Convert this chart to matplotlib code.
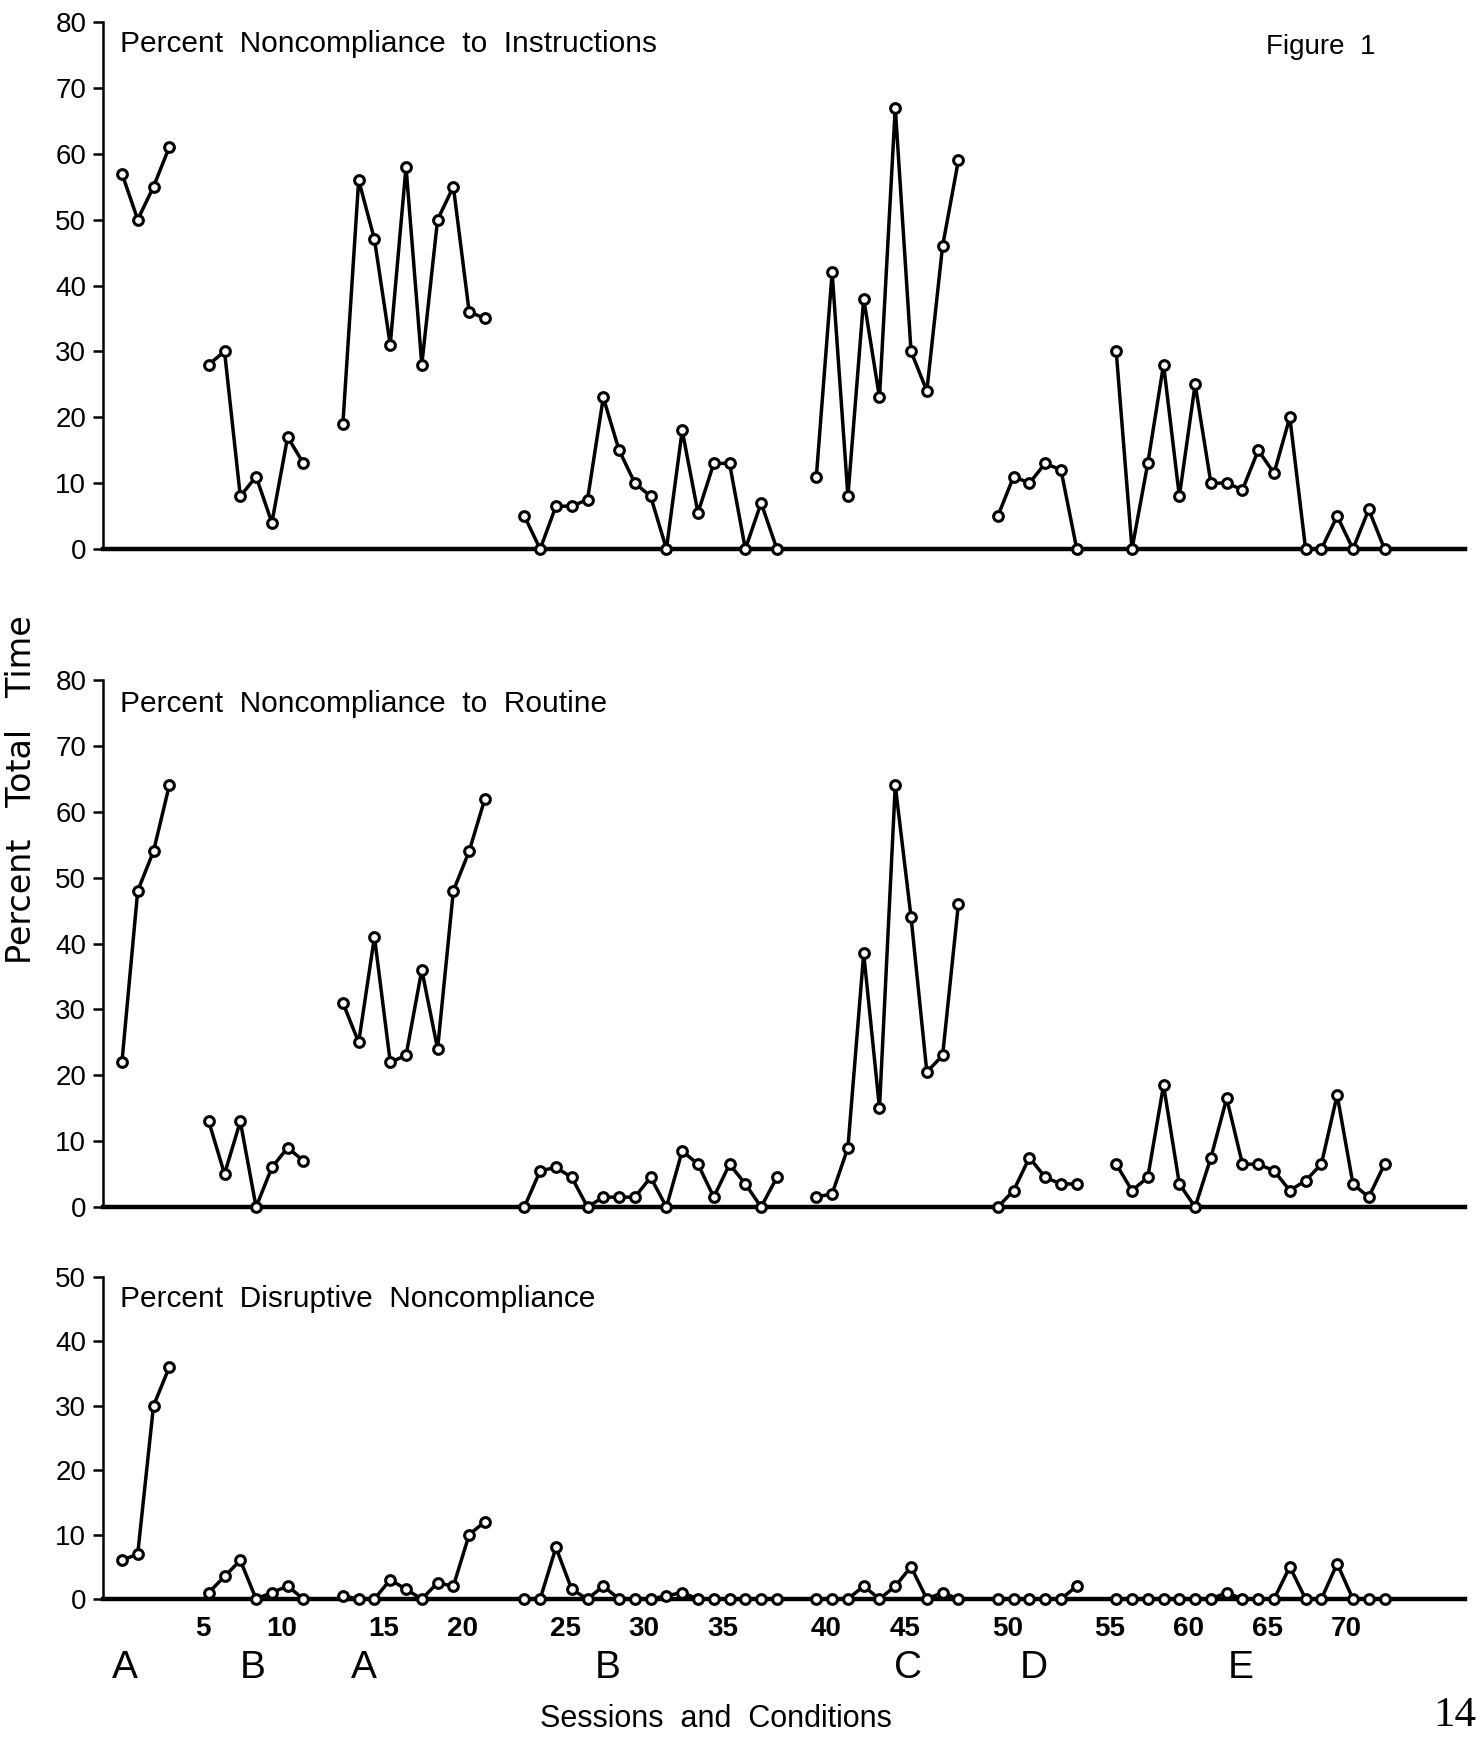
import matplotlib
matplotlib.use('Agg')
import matplotlib.pyplot as plt
import matplotlib.transforms as mtransforms
import numpy as np

# condition phases (in order) and how many sessions each one lasted
conditions = ['A', 'B', 'A', 'B', 'C', 'D', 'E']
phase_lengths = [4, 7, 10, 17, 10, 6, 18]

# percent noncompliance to instructions, sessions 1-72
instructions = [57, 50, 55, 61,
                28, 30, 8, 11, 4, 17, 13,
                19, 56, 47, 31, 58, 28, 50, 55, 36, 35,
                5, 0, 6.5, 6.5, 7.5, 23, 15, 10, 8, 0, 18, 5.5, 13, 13, 0, 7, 0,
                11, 42, 8, 38, 23, 67, 30, 24, 46, 59,
                5, 11, 10, 13, 12, 0,
                30, 0, 13, 28, 8, 25, 10, 10, 9, 15, 11.5, 20, 0, 0, 5, 0, 6, 0]

# percent noncompliance to routine
routine = [22, 48, 54, 64,
           13, 5, 13, 0, 6, 9, 7,
           31, 25, 41, 22, 23, 36, 24, 48, 54, 62,
           0, 5.5, 6, 4.5, 0, 1.5, 1.5, 1.5, 4.5, 0, 8.5, 6.5, 1.5, 6.5, 3.5, 0, 4.5,
           1.5, 2, 9, 38.5, 15, 64, 44, 20.5, 23, 46,
           0, 2.5, 7.5, 4.5, 3.5, 3.5,
           6.5, 2.5, 4.5, 18.5, 3.5, 0, 7.5, 16.5, 6.5, 6.5, 5.5, 2.5, 4, 6.5, 17, 3.5, 1.5, 6.5]

# percent disruptive noncompliance
disruptive = [6, 7, 30, 36,
              1, 3.5, 6, 0, 1, 2, 0,
              0.5, 0, 0, 3, 1.5, 0, 2.5, 2, 10, 12,
              0, 0, 8, 1.5, 0, 2, 0, 0, 0, 0.5, 1, 0, 0, 0, 0, 0, 0,
              0, 0, 0, 2, 0, 2, 5, 0, 1, 0,
              0, 0, 0, 0, 0, 2,
              0, 0, 0, 0, 0, 0, 0, 1, 0, 0, 0, 5, 0, 0, 5.5, 0, 0, 0]

session_ticks = [5, 10, 15, 20, 25, 30, 35, 40, 45, 50, 55, 60, 65, 70]

panel_titles = ['Percent  Noncompliance  to  Instructions',
                'Percent  Noncompliance  to  Routine',
                'Percent  Disruptive  Noncompliance']
panel_ymax = [80, 80, 50]

GAP = 1.5  # blank space between condition phases, in sessions
NARROW = ['Liberation Sans', 'DejaVu Sans']

# x position of every session, with a gap between phases
phase_of = np.repeat(np.arange(len(phase_lengths)), phase_lengths)
sessions = np.arange(1, len(phase_of) + 1)
xpos = sessions + GAP * phase_of

fig = plt.figure(figsize=(14.78, 17.41), dpi=100)

W, H = 1478.0, 1741.0
left, right = 103 / W, 1465 / W
boxes = [(22, 549), (680, 1207), (1277, 1599)]  # top and bottom (pixels) of each plot
title_y = [44, 704, 1299]

axes = []
for i, (data, title, ymax) in enumerate(zip([instructions, routine, disruptive], panel_titles, panel_ymax)):
    top, bot = boxes[i]
    ax = fig.add_axes([left, 1 - bot / H, right - left, (bot - top) / H])
    data = np.array(data, dtype=float)
    for p in range(len(phase_lengths)):
        m = phase_of == p
        ax.plot(xpos[m], data[m], color='black', lw=2.5, marker='o', ms=7,
                mfc='white', mec='black', mew=2.2, clip_on=False, zorder=3)

    ax.set_xlim(-0.2, 86.1)
    ax.set_ylim(0, ymax)
    ax.set_yticks(np.arange(0, ymax + 1, 10))
    ax.spines['top'].set_visible(False)
    ax.spines['right'].set_visible(False)
    ax.spines['left'].set_linewidth(1.8)
    ax.spines['bottom'].set_linewidth(3.2)
    ax.tick_params(axis='y', length=7, width=1.8, labelsize=20, pad=5)
    for lab in ax.get_yticklabels():
        lab.set_family(NARROW)
    ax.set_xticks([])

    fig.text(120 / W, 1 - title_y[i] / H, title, fontsize=21.5, family=NARROW,
             ha='left', va='center')
    axes.append(ax)

# session numbers and condition letters under the bottom plot
ax = axes[-1]
tick_x = [s + GAP * phase_of[s - 1] - 0.4 for s in session_ticks]
ax.set_xticks(tick_x)
ax.set_xticklabels([str(s) for s in session_ticks], fontsize=20, fontweight='bold', family=NARROW)
ax.tick_params(axis='x', length=0, pad=12)

trans = mtransforms.blended_transform_factory(ax.transData, fig.transFigure)
cond_x = [1.2, 9.3, 16.3, 31.8, 50.8, 58.8, 71.9]
for c, cx in zip(conditions, cond_x):
    ax.text(cx, 1 - 1668 / H, c, transform=trans, fontsize=28, family=NARROW, ha='center', va='center')

fig.text(1321 / W, 1 - 47 / H, 'Figure  1', fontsize=20, family=NARROW, ha='center', va='center')
fig.text(22 / W, 1 - 790 / H, 'Percent   Total   Time', fontsize=24, rotation=90,
         family=['DejaVu Sans'], ha='center', va='center')
fig.text(716 / W, 1 - 1719 / H, 'Sessions  and  Conditions', fontsize=22, family=NARROW,
         ha='center', va='center')
fig.text(1455 / W, 1 - 1716 / H, '14', fontsize=31, family=['Liberation Serif', 'DejaVu Serif'],
         ha='center', va='center')

fig.savefig('out.png', dpi=100, facecolor='white')
